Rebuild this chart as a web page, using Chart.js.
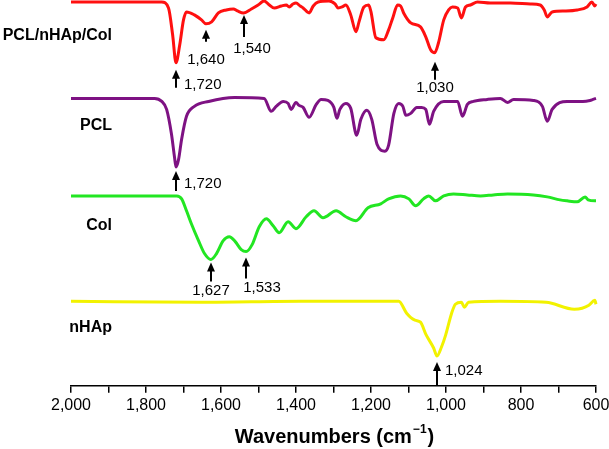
<!DOCTYPE html>
<html>
<head>
<meta charset="utf-8">
<script src="https://cdn.jsdelivr.net/npm/chart.js@4.4.1/dist/chart.umd.min.js"></script>
<style>
  html, body { margin: 0; padding: 0; background: #fff; }
  #wrap { width: 609px; height: 449px; }
</style>
</head>
<body>
<div id="wrap"><canvas id="chart" width="609" height="449"></canvas></div>
<script>
// sample names, top trace first
const sampleNames = ['PCL/nHAp/Col', 'PCL', 'Col', 'nHAp'];

// wavenumber (cm-1) and offset transmittance (arbitrary units)
const compositeWn = [2000, 1758, 1740, 1729, 1720, 1710, 1700, 1692, 1671, 1652, 1640, 1625, 1607, 1586, 1567, 1556, 1540, 1519, 1501, 1485, 1471, 1458, 1439, 1426, 1418, 1408, 1400, 1389, 1381, 1365, 1354, 1341, 1312, 1296, 1288, 1277, 1267, 1254, 1240, 1232, 1219, 1206, 1200, 1187, 1166, 1153, 1142, 1129, 1121, 1113, 1094, 1068, 1054, 1041, 1030, 1020, 1006, 993, 983, 969, 959, 948, 935, 916, 882, 828, 775, 749, 738, 730, 717, 682, 650, 624, 611, 603, 600];
const compositeT  = [400, 400, 394, 367, 339, 357, 382, 390, 387, 382, 378, 380, 389, 392, 393, 391, 389, 393, 397, 401, 397, 394, 396, 397, 395, 398, 399, 396, 394, 389, 396, 400, 401, 398, 394, 395, 397, 387, 370, 380, 395, 397, 390, 364, 362, 372, 384, 397, 396, 389, 379, 375, 365, 352, 349, 359, 382, 392, 395, 394, 384, 395, 397, 400, 399, 399, 398, 397, 392, 385, 390, 391, 392, 395, 400, 396, 398];

const pclWn = [2000, 1777, 1758, 1745, 1732, 1724, 1720, 1713, 1705, 1692, 1671, 1633, 1564, 1485, 1466, 1453, 1434, 1421, 1413, 1400, 1392, 1381, 1365, 1346, 1333, 1315, 1299, 1291, 1283, 1267, 1254, 1238, 1227, 1211, 1198, 1184, 1163, 1153, 1139, 1126, 1115, 1107, 1094, 1078, 1065, 1054, 1044, 1033, 1006, 969, 956, 943, 927, 890, 855, 836, 820, 767, 743, 730, 717, 677, 635, 616, 608, 600];
const pclT  = [303, 303, 300, 292, 267, 244, 234, 242, 262, 285, 295, 300, 304, 303, 290, 295, 300, 298, 292, 299, 296, 294, 284, 297, 302, 301, 294, 283, 292, 298, 293, 266, 282, 291, 282, 257, 250, 256, 288, 298, 295, 286, 288, 294, 294, 292, 277, 290, 300, 300, 285, 297, 300, 302, 303, 299, 302, 301, 295, 280, 292, 300, 300, 301, 302, 303];

const colWn = [2000, 1718, 1705, 1692, 1679, 1660, 1644, 1627, 1612, 1594, 1578, 1562, 1546, 1533, 1517, 1498, 1479, 1461, 1445, 1421, 1400, 1373, 1352, 1328, 1293, 1267, 1240, 1208, 1174, 1153, 1121, 1099, 1081, 1060, 1046, 1028, 1006, 980, 943, 908, 874, 836, 767, 730, 696, 677, 650, 629, 621, 603, 600];
const colT  = [205, 205, 202, 190, 177, 160, 147, 141, 147, 160, 164, 159, 151, 149, 156, 174, 182, 175, 168, 179, 172, 184, 190, 183, 190, 184, 180, 193, 197, 202, 205, 202, 195, 202, 205, 200, 205, 207, 206, 205, 206, 207, 206, 204, 201, 200, 199, 204, 201, 200, 200];

const hapWn = [2000, 1652, 1386, 1126, 1105, 1083, 1068, 1054, 1033, 1024, 1012, 1001, 985, 975, 959, 951, 940, 855, 733, 658, 637, 619, 603, 600];
const hapT  = [99, 98, 99, 99, 87, 80, 78, 66, 52, 44, 53, 65, 87, 96, 98, 93, 98, 99, 98, 91, 92, 95, 100, 96];

// peak markers: which sample, where, and the printed value
const peakSample = [0, 0, 0, 0, 1, 2, 2, 3];
const peakWn     = [1720, 1640, 1540, 1030, 1720, 1627, 1533, 1024];
const peakText   = ['1,720', '1,640', '1,540', '1,030', '1,720', '1,627', '1,533', '1,024'];

// x axis ticks (every 100, labelled every 200)
const xTicks = [2000, 1900, 1800, 1700, 1600, 1500, 1400, 1300, 1200, 1100, 1000, 900, 800, 700, 600];
const xTickLabels = ['2,000', '', '1,800', '', '1,600', '', '1,400', '', '1,200', '', '1,000', '', '800', '', '600'];

const FONT = '"Liberation Sans", Arial, Helvetica, sans-serif';
const lineColors = ['#ff1010', '#7e1283', '#22e622', '#f2f200'];

// arrow/label placement for each marker (px): gap below trace, arrow length, label mode, label offsets
const peakStyle = [
  { gap: 7,  len: 18, mode: 'right', dx: 8,  dy: 15 },
  { gap: 6,  len: 12, mode: 'below', dx: 0,  dy: 30 },
  { gap: 2,  len: 22, mode: 'below', dx: 8,  dy: 34 },
  { gap: 9,  len: 18, mode: 'below', dx: 0,  dy: 26 },
  { gap: 4,  len: 20, mode: 'right', dx: 8,  dy: 13 },
  { gap: 3,  len: 19, mode: 'below', dx: 0,  dy: 28 },
  { gap: 6,  len: 21, mode: 'below', dx: 16, dy: 30 },
  { gap: 6,  len: 24, mode: 'right', dx: 8,  dy: 9 }
];
const nameX = 112;
const nameY = [36, 126, 226, 328];

function toPoints(xs, ys) {
  return xs.map((x, i) => ({ x: x, y: ys[i] }));
}

const seriesData = [
  toPoints(compositeWn, compositeT),
  toPoints(pclWn, pclT),
  toPoints(colWn, colT),
  toPoints(hapWn, hapT)
];

const annotations = {
  id: 'annotations',
  afterDatasetsDraw(chart) {
    const ctx = chart.ctx;
    const xs = chart.scales.x;
    const ys = chart.scales.y;
    ctx.save();
    ctx.fillStyle = '#000';
    ctx.strokeStyle = '#000';

    // sample names
    ctx.font = 'bold 16px ' + FONT;
    ctx.textAlign = 'right';
    ctx.textBaseline = 'middle';
    sampleNames.forEach((n, i) => ctx.fillText(n, nameX, nameY[i]));

    // arrows + values
    ctx.font = '15px ' + FONT;
    peakWn.forEach((wn, i) => {
      const pt = seriesData[peakSample[i]].find(p => p.x === wn);
      const st = peakStyle[i];
      const x = Math.round(xs.getPixelForValue(wn));
      const tip = ys.getPixelForValue(pt.y) + st.gap;
      const tail = tip + st.len;
      ctx.beginPath();
      ctx.moveTo(x, tip);
      ctx.lineTo(x - 4, tip + 9);
      ctx.lineTo(x + 4, tip + 9);
      ctx.closePath();
      ctx.fill();
      ctx.lineWidth = 2;
      ctx.beginPath();
      ctx.moveTo(x, tip + 7);
      ctx.lineTo(x, tail);
      ctx.stroke();
      ctx.textAlign = st.mode === 'right' ? 'left' : 'center';
      ctx.fillText(peakText[i], x + st.dx, tip + st.dy);
    });

    // axis title with superscript
    const main = 'Wavenumbers (cm';
    const sup = '\u22121';
    ctx.font = 'bold 20px ' + FONT;
    const w1 = ctx.measureText(main).width;
    const w3 = ctx.measureText(')').width;
    ctx.font = 'bold 12px ' + FONT;
    const w2 = ctx.measureText(sup).width;
    const cx = (chart.chartArea.left + chart.chartArea.right) / 2;
    const x0 = cx - (w1 + w2 + w3) / 2;
    const ty = 437;
    ctx.textAlign = 'left';
    ctx.font = 'bold 20px ' + FONT;
    ctx.fillText(main, x0, ty);
    ctx.font = 'bold 12px ' + FONT;
    ctx.fillText(sup, x0 + w1 + 1, ty - 7);
    ctx.font = 'bold 20px ' + FONT;
    ctx.fillText(')', x0 + w1 + w2 + 2, ty);
    ctx.restore();
  }
};

const chart = new Chart(document.getElementById('chart'), {
  type: 'line',
  data: {
    datasets: sampleNames.map((name, i) => ({
      label: name,
      data: seriesData[i],
      borderColor: lineColors[i],
      borderWidth: 3,
      pointRadius: 0,
      fill: false,
      cubicInterpolationMode: 'monotone',
      clip: false
    }))
  },
  options: {
    responsive: false,
    animation: false,
    layout: { padding: { left: 71, right: 13, top: 0, bottom: 31 } },
    plugins: {
      legend: { display: false },
      tooltip: { enabled: false }
    },
    scales: {
      x: {
        type: 'linear',
        reverse: true,
        min: 600,
        max: 2000,
        afterBuildTicks: (scale) => { scale.ticks = xTicks.map(v => ({ value: v })); },
        afterFit: (scale) => { scale.paddingLeft = 0; scale.paddingRight = 0; },
        ticks: {
          autoSkip: false,
          maxRotation: 0,
          color: '#000',
          font: { family: FONT, size: 16 },
          padding: 3,
          callback: (v) => xTickLabels[xTicks.indexOf(v)]
        },
        grid: { drawOnChartArea: false, drawTicks: true, tickLength: 7, color: '#000', lineWidth: 1.5 },
        border: { display: true, color: '#000', width: 1.5 }
      },
      y: {
        display: false,
        min: 14,
        max: 402
      }
    }
  },
  plugins: [annotations]
});
</script>
</body>
</html>
